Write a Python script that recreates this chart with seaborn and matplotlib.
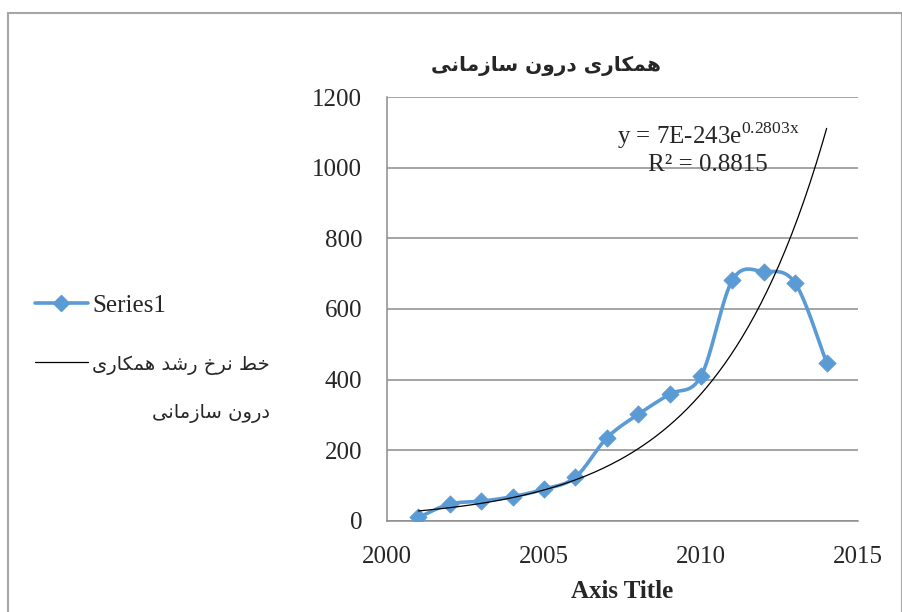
import numpy as np
import pandas as pd
import matplotlib
matplotlib.use("Agg")
import matplotlib.pyplot as plt
import matplotlib.patches as mpatches
from matplotlib.lines import Line2D
import seaborn as sns

# datos
years = [2001, 2002, 2003, 2004, 2005, 2006, 2007, 2008, 2009, 2010, 2011, 2012, 2013, 2014]
values = [10, 48, 56, 69, 90, 124, 235, 302, 359, 410, 682, 706, 673, 447]

title_fa = "همکاری درون سازمانی"
legend_fa_1 = "خط نرخ رشد همکاری"
legend_fa_2 = "درون سازمانی"
series_label = "Series1"
x_label = "Axis Title"
x_ticks = [2000, 2005, 2010, 2015]
y_ticks = [0, 200, 400, 600, 800, 1000, 1200]

# formas de presentacion arabes (iso, fin, ini, med)
FORMS = {
    "ا": ("\uFE8D", "\uFE8E", None, None),
    "د": ("\uFEA9", "\uFEAA", None, None),
    "ر": ("\uFEAD", "\uFEAE", None, None),
    "ز": ("\uFEAF", "\uFEB0", None, None),
    "و": ("\uFEED", "\uFEEE", None, None),
    "ه": ("\uFEE9", "\uFEEA", "\uFEEB", "\uFEEC"),
    "م": ("\uFEE1", "\uFEE2", "\uFEE3", "\uFEE4"),
    "ن": ("\uFEE5", "\uFEE6", "\uFEE7", "\uFEE8"),
    "س": ("\uFEB1", "\uFEB2", "\uFEB3", "\uFEB4"),
    "ش": ("\uFEB5", "\uFEB6", "\uFEB7", "\uFEB8"),
    "خ": ("\uFEA5", "\uFEA6", "\uFEA7", "\uFEA8"),
    "ط": ("\uFEC1", "\uFEC2", "\uFEC3", "\uFEC4"),
    "ک": ("\uFB8E", "\uFB8F", "\uFB90", "\uFB91"),
    "ی": ("\uFBFC", "\uFBFD", "\uFBFE", "\uFBFF"),
}


def reshape(text):
    out = []
    for i, ch in enumerate(text):
        if ch not in FORMS:
            out.append(ch)
            continue
        prev = text[i - 1] if i > 0 else " "
        nxt = text[i + 1] if i < len(text) - 1 else " "
        join_prev = prev in FORMS and FORMS[prev][2] is not None
        join_next = nxt in FORMS and FORMS[ch][2] is not None
        iso, fin, ini, med = FORMS[ch]
        if join_prev and join_next:
            out.append(med)
        elif join_prev:
            out.append(fin)
        elif join_next:
            out.append(ini)
        else:
            out.append(iso)
    return "".join(out)[::-1]


def smooth(xs, ys, n=30):
    # curva suavizada tipo Excel (Catmull-Rom con Bezier)
    p = np.column_stack([xs, ys]).astype(float)
    pts = []
    for i in range(len(p) - 1):
        p0 = p[i - 1] if i > 0 else p[i]
        p1, p2 = p[i], p[i + 1]
        p3 = p[i + 2] if i + 2 < len(p) else p[i + 1]
        c1 = p1 + (p2 - p0) / 6
        c2 = p2 - (p3 - p1) / 6
        t = np.linspace(0, 1, n)[:, None]
        seg = (1 - t) ** 3 * p1 + 3 * (1 - t) ** 2 * t * c1 + 3 * (1 - t) * t ** 2 * c2 + t ** 3 * p2
        pts.append(seg if i == 0 else seg[1:])
    pts = np.vstack(pts)
    return pts[:, 0], pts[:, 1]


df = pd.DataFrame({"year": years, "value": values})

sx, sy = smooth(df["year"], df["value"])
curve = pd.DataFrame({"x": sx, "y": sy})

# linea de tendencia exponencial
b, ln_a = np.polyfit(df["year"], np.log(df["value"]), 1)
tx = np.linspace(years[0], years[-1], 200)
trend = pd.DataFrame({"x": tx, "y": np.exp(ln_a + b * tx)})

sns.set_style("white")
plt.rcParams["font.family"] = ["Liberation Serif", "DejaVu Sans"]
plt.rcParams["mathtext.fontset"] = "custom"
plt.rcParams["mathtext.rm"] = "Liberation Serif"

blue = "#5B9BD5"
grey = "#8C8C8C"
fa_font = ["DejaVu Sans"]

fig = plt.figure(figsize=(9.03, 6.12), dpi=100)
ax = fig.add_axes([0.4286, 0.1487, 0.5216, 0.6928])

sns.lineplot(data=curve, x="x", y="y", ax=ax, color=blue, linewidth=2.6, sort=False, estimator=None)
sns.scatterplot(data=df, x="year", y="value", ax=ax, color=blue, marker="D", s=75, edgecolor=blue, zorder=5)
sns.lineplot(data=trend, x="x", y="y", ax=ax, color="black", linewidth=0.9, zorder=6)

ax.set_xlim(2000, 2015)
ax.set_ylim(0, 1200)
ax.set_xticks(x_ticks)
ax.set_yticks(y_ticks)
ax.yaxis.grid(True, color=grey, linewidth=1.1)
ax.set_axisbelow(True)
for s in ["top", "right"]:
    ax.spines[s].set_visible(False)
for s in ["left", "bottom"]:
    ax.spines[s].set_color(grey)
    ax.spines[s].set_linewidth(1.1)
ax.tick_params(axis="both", direction="out", length=6, width=1.1, color=grey, labelsize=18)
ax.tick_params(axis="y", pad=12)
ax.tick_params(axis="x", pad=12)
ax.set_ylabel("")
ax.set_xlabel(x_label, fontsize=18, fontweight="bold", labelpad=9)

# ecuacion
ax.text(2010.22, 1092, r"y = 7E-243e$^{\mathrm{0.2803x}}$", fontsize=18, ha="center", va="center")
ax.text(2010.22, 1007, "R² = 0.8815", fontsize=18, ha="center", va="center")

# titulo
fig.text(546 / 903, 1 - 66 / 612, reshape(title_fa), family=fa_font, fontsize=14.5,
         fontweight="bold", ha="center", va="center")

# leyenda
handles = [
    Line2D([], [], color=blue, linewidth=2.6, marker="D", markersize=8),
    Line2D([], [], color="black", linewidth=0.9),
]
leg = fig.legend(handles, [series_label, reshape(legend_fa_1)], loc="upper left",
                 bbox_to_anchor=(35 / 903, 1 - 294 / 612), frameon=False,
                 handlelength=2.1, handletextpad=0.2, labelspacing=1.45,
                 borderpad=0, borderaxespad=0, fontsize=18)
leg.get_texts()[1].set_family(fa_font)
leg.get_texts()[1].set_fontsize(14)

fig.canvas.draw()
bb = leg.get_texts()[1].get_window_extent()
fig.text(bb.x1 / fig.bbox.width, bb.y0 / fig.bbox.height - 0.062, reshape(legend_fa_2),
         family=fa_font, fontsize=14, ha="right", va="center")

# borde del area del grafico
fig.add_artist(mpatches.Rectangle((8 / 903, -0.02), 894 / 903, 1 - 13 / 612 + 0.02,
                                  transform=fig.transFigure, fill=False,
                                  edgecolor="#A6A6A6", linewidth=1.5))

fig.savefig("out.png", dpi=100)
